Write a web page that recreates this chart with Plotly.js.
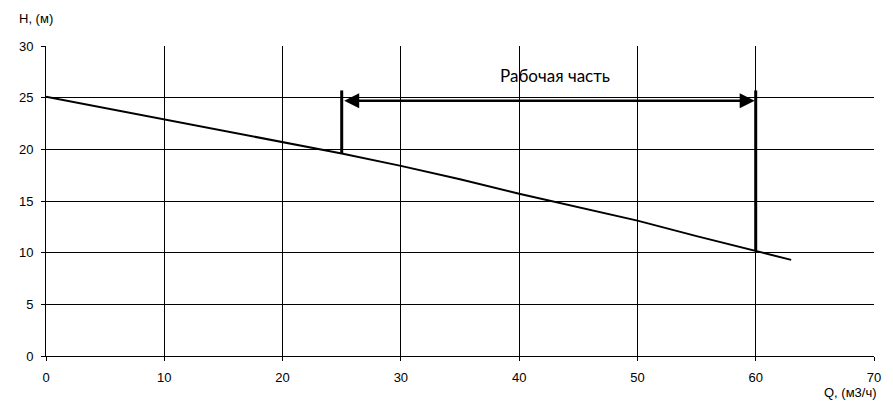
<!DOCTYPE html>
<html>
<head>
<meta charset="utf-8">
<script src="https://cdn.plot.ly/plotly-3.0.1.min.js"></script>
<style>html,body{margin:0;padding:0;background:#fff;}#chart{width:893px;height:408px;}</style>
</head>
<body>
<div id="chart"></div>
<script>
// Pump curve Q (m3/h) vs H (m)
const flowQ = [0, 5, 10, 15, 20, 25, 30, 35, 40, 45, 50, 55, 60, 63];
const headH = [25.1, 24.0, 22.9, 21.8, 20.7, 19.6, 18.4, 17.1, 15.7, 14.4, 13.1, 11.6, 10.2, 9.3];
// Working range
const workQ = [25, 60];
const workHbottom = [19.6, 10.2];
const workHtop = 25.7;
const arrowH = 24.7;
const workLabel = "Рабочая часть";
const labelPos = [43, 27.1];
const xTicks = [0, 10, 20, 30, 40, 50, 60, 70];
const yTicks = [0, 5, 10, 15, 20, 25, 30];
const xTitle = "Q, (м3/ч)";
const yTitle = "H, (м)";

const traces = [
  {x: flowQ, y: headH, mode: 'lines', line: {color: '#000', width: 2}, hoverinfo: 'skip'},
  {x: [workQ[0], workQ[0]], y: [workHbottom[0], workHtop], mode: 'lines', line: {color: '#000', width: 3}, hoverinfo: 'skip'},
  {x: [workQ[1], workQ[1]], y: [workHbottom[1], workHtop], mode: 'lines', line: {color: '#000', width: 3}, hoverinfo: 'skip'}
];

const axisFont = {family: '"Liberation Sans", Arial, sans-serif', size: 13, color: '#000'};

const layout = {
  width: 893, height: 408,
  margin: {l: 46, r: 19, t: 46, b: 52},
  paper_bgcolor: '#fff', plot_bgcolor: '#fff',
  showlegend: false,
  xaxis: {
    range: [0, 70], tickvals: xTicks, ticktext: xTicks.map(String),
    showgrid: true, gridcolor: '#000', gridwidth: 1,
    showline: true, linecolor: '#000', linewidth: 1, mirror: false,
    ticks: 'outside', ticklen: 4, tickcolor: '#000', tickfont: axisFont, ticklabelstandoff: 5,
    zeroline: false, fixedrange: true
  },
  yaxis: {
    range: [0, 30], tickvals: yTicks, ticktext: yTicks.map(String),
    showgrid: true, gridcolor: '#000', gridwidth: 1,
    showline: true, linecolor: '#000', linewidth: 1,
    ticks: 'outside', ticklen: 4, tickcolor: '#000', tickfont: axisFont, ticklabelstandoff: 5,
    zeroline: false, fixedrange: true
  },
  annotations: [
    {x: workQ[1], y: arrowH, ax: workQ[0], ay: arrowH, xref: 'x', yref: 'y', axref: 'x', ayref: 'y',
     text: '', showarrow: true, arrowside: 'end+start', arrowhead: 2, startarrowhead: 2,
     arrowsize: 1.2, startarrowsize: 1.2, arrowwidth: 2.5, arrowcolor: '#000', standoff: 1, startstandoff: 1},
    {x: labelPos[0], y: labelPos[1], xref: 'x', yref: 'y', text: workLabel, showarrow: false,
     font: {family: 'Lato, Carlito, sans-serif', size: 17, color: '#000'}},
    {x: 0, y: 1, xref: 'paper', yref: 'paper', text: yTitle, showarrow: false,
     xanchor: 'left', yanchor: 'bottom', xshift: -29, yshift: 18, font: axisFont},
    {x: 1, y: 0, xref: 'paper', yref: 'paper', text: xTitle, showarrow: false,
     xanchor: 'right', yanchor: 'top', xshift: 5, yshift: -27, font: axisFont}
  ]
};

Plotly.newPlot('chart', traces, layout, {displayModeBar: false, staticPlot: true});
</script>
</body>
</html>
